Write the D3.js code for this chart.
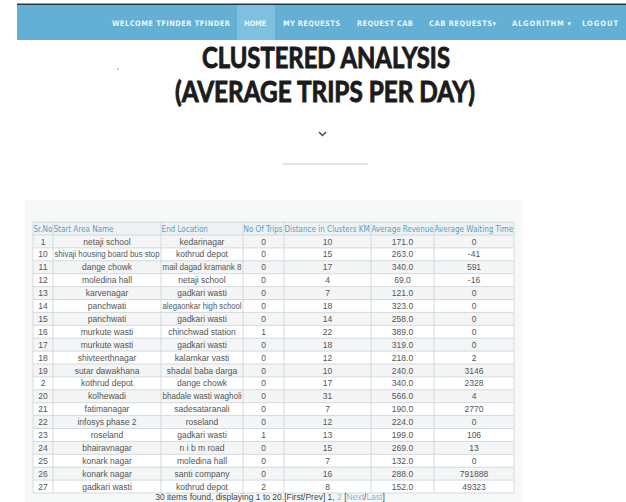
<!DOCTYPE html>
<html>
<head>
<meta charset="utf-8">
<script src="https://cdn.jsdelivr.net/npm/d3@7"></script>
<style>
  body { margin: 0; background: #fff; }
  svg { display: block; }
</style>
</head>
<body>
<svg id="page"></svg>
<script>
// table data
var headers = ["Sr.No", "Start Area Name", "End Location", "No Of Trips", "Distance in Clusters KM", "Average Revenue", "Average Waiting Time"];
var srNo = [1, 10, 11, 12, 13, 14, 15, 16, 17, 18, 19, 2, 20, 21, 22, 23, 24, 25, 26, 27];
var startArea = ["netaji school", "shivaji housing board bus stop", "dange chowk", "moledina hall", "karvenagar",
  "panchwati", "panchwati", "murkute wasti", "murkute wasti", "shivteerthnagar", "sutar dawakhana", "kothrud depot",
  "kolhewadi", "fatimanagar", "infosys phase 2", "roseland", "bhairavnagar", "konark nagar", "konark nagar", "gadkari wasti"];
var endLocation = ["kedarinagar", "kothrud depot", "mail dagad kramank 8", "netaji school", "gadkari wasti",
  "alegaonkar high school", "gadkari wasti", "chinchwad station", "gadkari wasti", "kalamkar vasti", "shadal baba darga",
  "dange chowk", "bhadale wasti wagholi", "sadesataranali", "roseland", "gadkari wasti", "n i b m road", "moledina hall",
  "santi company", "kothrud depot"];
var trips = [0, 0, 0, 0, 0, 0, 0, 1, 0, 0, 0, 0, 0, 0, 0, 1, 0, 0, 0, 2];
var distance = [10, 15, 17, 4, 7, 18, 14, 22, 18, 12, 10, 17, 31, 7, 12, 13, 15, 7, 16, 8];
var revenue = [171, 263, 340, 69, 121, 323, 258, 389, 319, 218, 240, 340, 566, 190, 224, 199, 269, 132, 288, 152];
var waiting = [0, -41, 591, -16, 0, 0, 0, 0, 0, 2, 3146, 2328, 4, 2770, 0, 106, 13, 0, 791888, 49323];

var navLabels = ["WELCOME TFINDER TFINDER", "HOME", "MY REQUESTS", "REQUEST CAB", "CAB REQUESTS\u25BE", "ALGORITHM \u25BE", "LOGOUT"];
var titleLines = ["CLUSTERED ANALYSIS", "(AVERAGE TRIPS PER DAY)"];

// page size
var W = 626, H = 502;

var svg = d3.select("#page")
    .attr("width", W)
    .attr("height", H);

svg.append("rect").attr("width", W).attr("height", H).attr("fill", "#fff");

// ---- navbar
svg.append("rect").attr("x", 17).attr("y", 4).attr("width", W - 17).attr("height", 36).attr("fill", "#63b0d4");
svg.append("rect").attr("x", 17).attr("y", 3.5).attr("width", W - 17).attr("height", 1.5).attr("fill", "#213a48");

// left / right edge of each menu item
var navX = [[112, 230], [244, 266], [283, 340], [357, 413], [429, 496], [512, 571], [582, 618]];
svg.append("rect").attr("x", 237).attr("y", 5).attr("width", 38).attr("height", 35).attr("fill", "#7ec0de");

svg.append("g").selectAll("text")
    .data(navLabels)
  .enter().append("text")
    .attr("x", function(d, i) { return navX[i][0]; })
    .attr("y", 25.5)
    .attr("font-family", "DejaVu Sans Condensed, DejaVu Sans")
    .attr("font-weight", "bold")
    .attr("font-size", 7.5)
    .attr("fill", "#eaf5fa")
    .text(function(d) { return d; })
    .each(function(d, i) {
      var w = navX[i][1] - navX[i][0];
      d3.select(this).attr("textLength", w).attr("lengthAdjust", "spacing");
    });

// ---- title
var titleBox = [[202, 450], [175, 475]];
svg.append("g").selectAll("text")
    .data(titleLines)
  .enter().append("text")
    .attr("x", function(d, i) { return titleBox[i][0]; })
    .attr("y", function(d, i) { return 68 + i * 34; })
    .attr("textLength", function(d, i) { return titleBox[i][1] - titleBox[i][0]; })
    .attr("lengthAdjust", "spacingAndGlyphs")
    .attr("font-family", "Lato, 'Open Sans', sans-serif")
    .attr("font-weight", "bold")
    .attr("font-size", 28)
    .attr("fill", "#1b1b1b")
    .attr("stroke", "#1b1b1b")
    .attr("stroke-width", 0.9)
    .text(function(d) { return d; });

svg.append("circle").attr("cx", 118).attr("cy", 69).attr("r", 0.8).attr("fill", "#999");

// chevron + divider
svg.append("path")
    .attr("d", "M319,132 L322.5,135.5 L326,132")
    .attr("fill", "none")
    .attr("stroke", "#444")
    .attr("stroke-width", 1.4);
svg.append("line")
    .attr("x1", 282).attr("x2", 368).attr("y1", 164).attr("y2", 164)
    .attr("stroke", "#e6e6e6").attr("stroke-width", 2);

// ---- table panel
svg.append("rect").attr("x", 25).attr("y", 200).attr("width", 497).attr("height", 302).attr("fill", "#f7f8f8");

var colEdges = [33, 53, 161, 243, 284, 371, 434, 514];
var xcol = d3.scaleOrdinal().domain(d3.range(headers.length)).range(colEdges.slice(0, -1));
function colW(i) { return colEdges[i + 1] - colEdges[i]; }

var headTop = 222, headH = 13;
var yscale = d3.scaleBand()
    .domain(d3.range(srNo.length))
    .range([headTop + headH, headTop + headH + srNo.length * 12.9]);

var fmt1 = d3.format(".1f");
var rows = srNo.map(function(d, i) {
  return [String(d), startArea[i], endLocation[i], String(trips[i]), String(distance[i]), fmt1(revenue[i]), String(waiting[i])];
});

var table = svg.append("g").attr("id", "table");

// header
table.append("rect")
    .attr("x", colEdges[0]).attr("y", headTop)
    .attr("width", colEdges[colEdges.length - 1] - colEdges[0]).attr("height", headH)
    .attr("fill", "#eef1f3");

table.append("g").selectAll("text")
    .data(headers)
  .enter().append("text")
    .attr("x", function(d, i) { return xcol(i) + 0.5; })
    .attr("y", headTop + 9.5)
    .attr("font-family", "DejaVu Sans Condensed, DejaVu Sans")
    .attr("font-size", 8)
    .attr("fill", "#5a9fc4")
    .text(function(d) { return d; })
    .each(function(d, i) {
      var w = colW(i) - 1;
      if (this.getComputedTextLength() > w) {
        d3.select(this).attr("textLength", w).attr("lengthAdjust", "spacingAndGlyphs");
      }
    });

// body rows
var row = table.selectAll(".row")
    .data(rows)
  .enter().append("g")
    .attr("class", "row")
    .attr("transform", function(d, i) { return "translate(0," + yscale(i) + ")"; });

row.append("rect")
    .attr("x", colEdges[0])
    .attr("width", colEdges[colEdges.length - 1] - colEdges[0])
    .attr("height", yscale.bandwidth())
    .attr("fill", function(d, i) { return i % 2 === 0 ? "#f3f5f6" : "#fff"; });

row.selectAll("text")
    .data(function(d) { return d; })
  .enter().append("text")
    .attr("x", function(d, i) { return xcol(i) + colW(i) / 2; })
    .attr("y", 9.5)
    .attr("text-anchor", "middle")
    .attr("font-family", "Liberation Sans, Arial, sans-serif")
    .attr("font-size", 8.5)
    .attr("fill", "#555")
    .text(function(d) { return d; })
    .each(function(d, i) {
      var w = colW(i) - 3;
      if (this.getComputedTextLength() > w) {
        d3.select(this).attr("textLength", w).attr("lengthAdjust", "spacingAndGlyphs");
      }
    });

// grid lines
var bottom = yscale.range()[1];
table.append("g").selectAll("line")
    .data(colEdges)
  .enter().append("line")
    .attr("x1", function(d) { return d; }).attr("x2", function(d) { return d; })
    .attr("y1", headTop).attr("y2", bottom)
    .attr("stroke", "#d3dadd").attr("stroke-width", 1);

table.append("g").selectAll("line")
    .data([headTop].concat(d3.range(srNo.length).map(function(i) { return yscale(i); }), [bottom]))
  .enter().append("line")
    .attr("x1", colEdges[0]).attr("x2", colEdges[colEdges.length - 1])
    .attr("y1", function(d) { return d; }).attr("y2", function(d) { return d; })
    .attr("stroke", "#d3dadd").attr("stroke-width", 1);

// footer / pager
var foot = svg.append("text")
    .attr("x", 270)
    .attr("y", 500)
    .attr("text-anchor", "middle")
    .attr("font-family", "Liberation Sans, Arial, sans-serif")
    .attr("font-size", 8.5)
    .attr("fill", "#444");
foot.append("tspan").text("30 items found, displaying 1 to 20.[First/Prev] 1, ");
foot.append("tspan").attr("fill", "#7fb6d6").text("2");
foot.append("tspan").text(" [");
foot.append("tspan").attr("fill", "#7fb6d6").text("Next");
foot.append("tspan").text("/");
foot.append("tspan").attr("fill", "#7fb6d6").text("Last");
foot.append("tspan").text("]");
</script>
</body>
</html>
